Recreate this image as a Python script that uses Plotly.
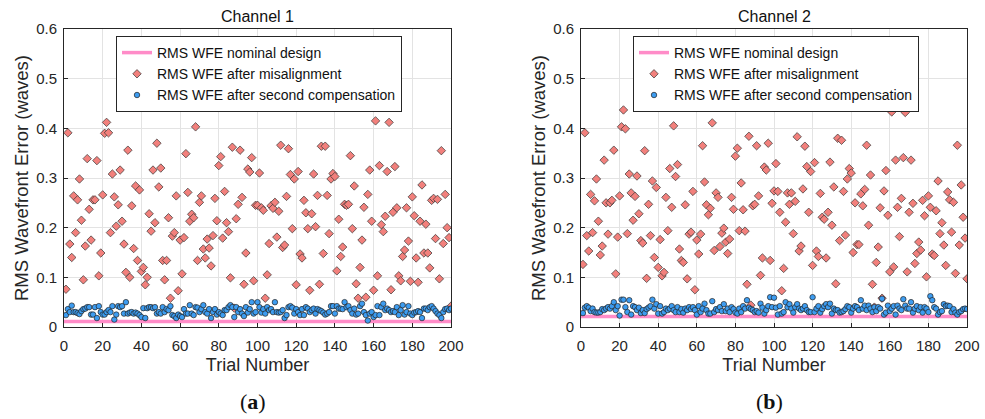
import plotly.graph_objects as go

trials = list(range(1, 201))

ch1_misalign = [
    0.076, 0.391, 0.167, 0.140, 0.264, 0.190, 0.256, 0.298, 0.215, 0.095,
    0.163, 0.339, 0.237, 0.175, 0.256, 0.256, 0.335, 0.103, 0.149, 0.266,
    0.390, 0.412, 0.391, 0.190, 0.308, 0.262, 0.203, 0.246, 0.316, 0.213,
    0.167, 0.110, 0.356, 0.100, 0.244, 0.158, 0.284, 0.134, 0.276, 0.112,
    0.120, 0.085, 0.100, 0.228, 0.193, 0.316, 0.210, 0.370, 0.282, 0.320,
    0.134, 0.095, 0.134, 0.220, 0.058, 0.183, 0.190, 0.264, 0.073, 0.175,
    0.107, 0.180, 0.349, 0.271, 0.213, 0.227, 0.220, 0.403, 0.134, 0.251,
    0.264, 0.157, 0.139, 0.177, 0.159, 0.123, 0.184, 0.259, 0.214, 0.325,
    0.343, 0.179, 0.273, 0.210, 0.192, 0.099, 0.362, 0.038, 0.218, 0.247,
    0.356, 0.261, 0.086, 0.149, 0.318, 0.312, 0.341, 0.093, 0.245, 0.245,
    0.310, 0.240, 0.235, 0.058, 0.105, 0.168, 0.244, 0.239, 0.251, 0.181,
    0.233, 0.366, 0.160, 0.165, 0.263, 0.359, 0.307, 0.198, 0.298, 0.085,
    0.313, 0.147, 0.139, 0.255, 0.230, 0.198, 0.074, 0.228, 0.308, 0.202,
    0.265, 0.086, 0.364, 0.148, 0.364, 0.265, 0.188, 0.298, 0.309, 0.303,
    0.113, 0.217, 0.142, 0.161, 0.247, 0.245, 0.247, 0.345, 0.198, 0.284,
    0.087, 0.058, 0.120, 0.175, 0.241, 0.060, 0.267, 0.316, 0.213, 0.074,
    0.415, 0.103, 0.325, 0.206, 0.192, 0.223, 0.313, 0.412, 0.075, 0.231,
    0.323, 0.240, 0.103, 0.093, 0.142, 0.155, 0.240, 0.173, 0.092, 0.262,
    0.224, 0.139, 0.090, 0.213, 0.286, 0.149, 0.207, 0.149, 0.119, 0.255,
    0.259, 0.178, 0.257, 0.097, 0.355, 0.168, 0.267, 0.200, 0.180, 0.042,
]

ch1_comp = [
    0.024, 0.036, 0.030, 0.043, 0.030, 0.030, 0.028, 0.026, 0.032, 0.036,
    0.037, 0.040, 0.040, 0.025, 0.025, 0.040, 0.018, 0.042, 0.030, 0.025,
    0.025, 0.030, 0.034, 0.030, 0.042, 0.015, 0.025, 0.042, 0.040, 0.042,
    0.027, 0.050, 0.027, 0.029, 0.030, 0.027, 0.029, 0.027, 0.024, 0.020,
    0.038, 0.018, 0.038, 0.040, 0.040, 0.038, 0.040, 0.027, 0.030, 0.027,
    0.040, 0.030, 0.036, 0.034, 0.042, 0.024, 0.022, 0.018, 0.025, 0.022,
    0.020, 0.036, 0.027, 0.027, 0.044, 0.027, 0.024, 0.040, 0.039, 0.030,
    0.036, 0.044, 0.030, 0.027, 0.036, 0.018, 0.030, 0.036, 0.025, 0.030,
    0.027, 0.024, 0.034, 0.034, 0.040, 0.044, 0.040, 0.020, 0.040, 0.030,
    0.036, 0.027, 0.022, 0.040, 0.029, 0.036, 0.050, 0.027, 0.030, 0.050,
    0.040, 0.029, 0.036, 0.027, 0.040, 0.034, 0.036, 0.030, 0.050, 0.030,
    0.029, 0.030, 0.034, 0.018, 0.024, 0.040, 0.042, 0.039, 0.027, 0.036,
    0.030, 0.024, 0.036, 0.024, 0.040, 0.037, 0.030, 0.034, 0.037, 0.027,
    0.036, 0.034, 0.032, 0.029, 0.025, 0.027, 0.030, 0.042, 0.042, 0.027,
    0.042, 0.037, 0.037, 0.036, 0.050, 0.040, 0.042, 0.034, 0.027, 0.037,
    0.025, 0.027, 0.042, 0.047, 0.030, 0.024, 0.013, 0.027, 0.030, 0.020,
    0.024, 0.042, 0.024, 0.040, 0.047, 0.034, 0.037, 0.034, 0.030, 0.032,
    0.030, 0.040, 0.024, 0.034, 0.044, 0.025, 0.030, 0.042, 0.027, 0.024,
    0.029, 0.030, 0.032, 0.030, 0.018, 0.037, 0.037, 0.034, 0.040, 0.042,
    0.037, 0.032, 0.027, 0.024, 0.018, 0.030, 0.036, 0.037, 0.034, 0.037,
]

ch2_misalign = [
    0.126, 0.391, 0.184, 0.153, 0.267, 0.190, 0.254, 0.298, 0.213, 0.145,
    0.163, 0.336, 0.250, 0.187, 0.250, 0.255, 0.356, 0.107, 0.181, 0.264,
    0.403, 0.437, 0.399, 0.188, 0.308, 0.270, 0.215, 0.263, 0.304, 0.228,
    0.174, 0.169, 0.355, 0.098, 0.247, 0.184, 0.294, 0.140, 0.281, 0.120,
    0.176, 0.103, 0.110, 0.261, 0.194, 0.319, 0.241, 0.405, 0.303, 0.327,
    0.157, 0.134, 0.130, 0.246, 0.097, 0.187, 0.191, 0.273, 0.075, 0.175,
    0.147, 0.187, 0.365, 0.292, 0.246, 0.226, 0.239, 0.411, 0.154, 0.270,
    0.261, 0.162, 0.189, 0.199, 0.171, 0.148, 0.177, 0.261, 0.237, 0.344,
    0.360, 0.194, 0.290, 0.236, 0.193, 0.086, 0.384, 0.044, 0.244, 0.247,
    0.365, 0.264, 0.104, 0.139, 0.322, 0.316, 0.370, 0.134, 0.249, 0.274,
    0.329, 0.273, 0.231, 0.073, 0.118, 0.211, 0.270, 0.247, 0.270, 0.188,
    0.253, 0.383, 0.153, 0.163, 0.278, 0.364, 0.323, 0.231, 0.313, 0.124,
    0.331, 0.153, 0.142, 0.269, 0.221, 0.217, 0.139, 0.231, 0.332, 0.205,
    0.282, 0.087, 0.380, 0.174, 0.376, 0.273, 0.185, 0.298, 0.319, 0.310,
    0.150, 0.250, 0.166, 0.166, 0.268, 0.244, 0.277, 0.366, 0.205, 0.306,
    0.086, 0.040, 0.130, 0.161, 0.240, 0.058, 0.274, 0.315, 0.225, 0.111,
    0.433, 0.121, 0.336, 0.241, 0.182, 0.259, 0.341, 0.432, 0.111, 0.231,
    0.336, 0.249, 0.128, 0.148, 0.171, 0.155, 0.255, 0.224, 0.101, 0.264,
    0.241, 0.147, 0.144, 0.234, 0.294, 0.188, 0.210, 0.165, 0.124, 0.272,
    0.256, 0.191, 0.251, 0.108, 0.366, 0.165, 0.286, 0.221, 0.179, 0.097,
]

ch2_comp = [
    0.028, 0.039, 0.042, 0.039, 0.032, 0.037, 0.030, 0.029, 0.029, 0.030,
    0.036, 0.034, 0.037, 0.040, 0.037, 0.042, 0.050, 0.034, 0.042, 0.023,
    0.055, 0.055, 0.040, 0.030, 0.054, 0.025, 0.042, 0.040, 0.034, 0.039,
    0.028, 0.034, 0.028, 0.036, 0.039, 0.042, 0.055, 0.037, 0.046, 0.027,
    0.042, 0.027, 0.030, 0.037, 0.034, 0.037, 0.042, 0.034, 0.030, 0.040,
    0.030, 0.036, 0.029, 0.037, 0.034, 0.040, 0.036, 0.040, 0.034, 0.025,
    0.042, 0.030, 0.037, 0.047, 0.034, 0.027, 0.027, 0.052, 0.030, 0.036,
    0.034, 0.040, 0.032, 0.046, 0.032, 0.037, 0.030, 0.040, 0.036, 0.029,
    0.027, 0.037, 0.030, 0.042, 0.037, 0.054, 0.039, 0.036, 0.034, 0.030,
    0.032, 0.029, 0.047, 0.039, 0.027, 0.034, 0.042, 0.060, 0.040, 0.059,
    0.039, 0.025, 0.042, 0.027, 0.030, 0.050, 0.040, 0.046, 0.037, 0.029,
    0.040, 0.046, 0.037, 0.034, 0.037, 0.042, 0.034, 0.030, 0.030, 0.060,
    0.030, 0.037, 0.042, 0.029, 0.036, 0.042, 0.046, 0.040, 0.047, 0.027,
    0.037, 0.034, 0.034, 0.029, 0.030, 0.032, 0.036, 0.042, 0.040, 0.029,
    0.037, 0.042, 0.040, 0.034, 0.054, 0.037, 0.043, 0.034, 0.043, 0.037,
    0.030, 0.040, 0.032, 0.040, 0.037, 0.057, 0.025, 0.029, 0.043, 0.032,
    0.037, 0.042, 0.025, 0.043, 0.037, 0.034, 0.056, 0.043, 0.037, 0.037,
    0.050, 0.029, 0.037, 0.042, 0.034, 0.040, 0.029, 0.040, 0.037, 0.030,
    0.062, 0.054, 0.040, 0.037, 0.025, 0.030, 0.032, 0.046, 0.042, 0.043,
    0.042, 0.030, 0.036, 0.029, 0.025, 0.030, 0.032, 0.036, 0.037, 0.036,
]

nominal = [0.011, 0.021]
channel_titles = ["Channel 1", "Channel 2"]
panel_labels = ["(<b>a</b>)", "(<b>b</b>)"]
x_ticks = [0, 20, 40, 60, 80, 100, 120, 140, 160, 180, 200]
y_ticks = [0, 0.1, 0.2, 0.3, 0.4, 0.5, 0.6]

name_nom = "RMS WFE nominal design"
name_mis = "RMS WFE after misalignment"
name_comp = "RMS WFE after second compensation"

FONT = "Liberation Sans, Arial, sans-serif"
PINK = "#ff8cc8"
RED = "#f2807c"
BLUE = "#3d9cf0"
TXT = "#262626"

W, H = 985, 419
x_domains = [[64 / W, 451 / W], [581 / W, 967 / W]]
y_domain = [1 - 327 / H, 1 - 29 / H]

fig = go.Figure()
datasets = [(ch1_misalign, ch1_comp), (ch2_misalign, ch2_comp)]
for i, (mis, comp) in enumerate(datasets):
    xa = "x" if i == 0 else "x2"
    ya = "y" if i == 0 else "y2"
    lg = "legend" if i == 0 else "legend2"
    fig.add_trace(go.Scatter(
        x=[0, 200], y=[nominal[i], nominal[i]], mode="lines",
        line=dict(color=PINK, width=3.5), name=name_nom,
        xaxis=xa, yaxis=ya, legend=lg))
    fig.add_trace(go.Scatter(
        x=trials, y=mis, mode="markers",
        marker=dict(symbol="diamond", size=6.5, color=RED,
                    line=dict(color="#333333", width=0.7)),
        name=name_mis, xaxis=xa, yaxis=ya, legend=lg))
    fig.add_trace(go.Scatter(
        x=trials, y=comp, mode="markers",
        marker=dict(symbol="circle", size=5.5, color=BLUE,
                    line=dict(color="#222222", width=0.7)),
        name=name_comp, xaxis=xa, yaxis=ya, legend=lg))

axis_common = dict(
    showgrid=True, gridcolor="#e3e3e3", gridwidth=1,
    showline=True, linecolor=TXT, linewidth=1, mirror=True,
    ticks="inside", ticklen=4, tickcolor=TXT,
    tickfont=dict(family=FONT, size=15, color=TXT),
    zeroline=False, automargin=False,
)

for i in range(2):
    sx = "" if i == 0 else "2"
    fig.update_layout(**{
        f"xaxis{sx}": dict(
            axis_common, domain=x_domains[i], range=[0, 200],
            tickvals=x_ticks, anchor="y" + sx, ticklabelstandoff=5,
            title=dict(text="Trial Number", font=dict(family=FONT, size=18, color=TXT),
                       standoff=5),
        ),
        f"yaxis{sx}": dict(
            axis_common, domain=y_domain, range=[0, 0.6],
            tickvals=y_ticks, tickformat=".1~f", anchor="x" + sx, ticklabelstandoff=3,
            title=dict(text="RMS Wavefront Error (waves)",
                       font=dict(family=FONT, size=18.5, color=TXT), standoff=2),
        ),
    })

leg_common = dict(
    bgcolor="white", bordercolor=TXT, borderwidth=1,
    font=dict(family=FONT, size=14, color="#111111"),
    xanchor="left", yanchor="top", y=1 - 36 / H,
    tracegroupgap=0, itemwidth=30,
)
fig.update_layout(
    legend=dict(leg_common, x=116 / W),
    legend2=dict(leg_common, x=633 / W),
)

annotations = []
for i in range(2):
    cx = (x_domains[i][0] + x_domains[i][1]) / 2
    annotations.append(dict(
        text=channel_titles[i], x=cx, y=1 - 17 / H, xref="paper", yref="paper",
        showarrow=False, xanchor="center", yanchor="middle",
        font=dict(family=FONT, size=16, color="#111111")))
    annotations.append(dict(
        text=panel_labels[i], x=cx - 0.005, y=1 - 401 / H, xref="paper", yref="paper",
        showarrow=False, xanchor="center", yanchor="middle",
        font=dict(family="Liberation Serif, DejaVu Serif, serif", size=22, color="#111111")))

fig.update_layout(
    width=W, height=H, margin=dict(l=0, r=0, t=0, b=0),
    paper_bgcolor="white", plot_bgcolor="white",
    showlegend=True, annotations=annotations,
)

fig.write_html("out.html")
